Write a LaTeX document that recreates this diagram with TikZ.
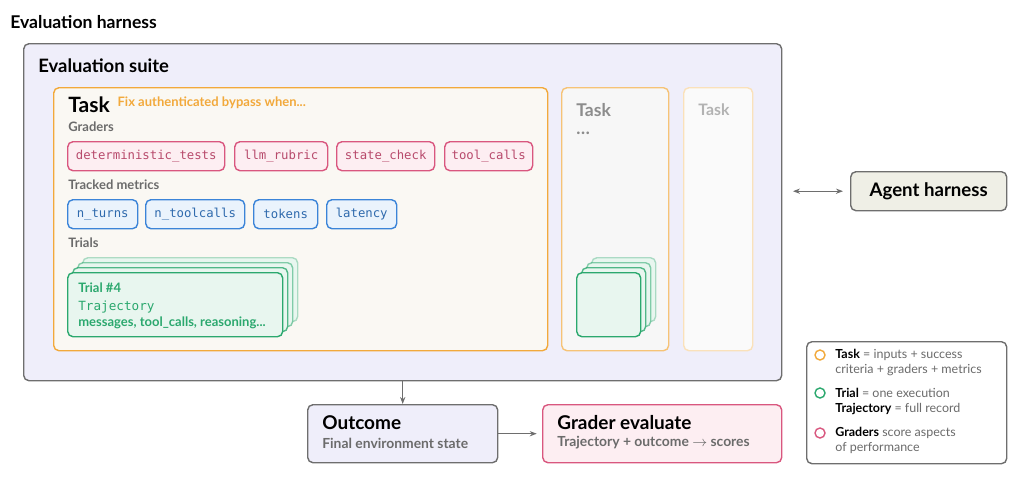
\documentclass[tikz,border=0pt]{standalone}
\usepackage{fontspec}
\setmainfont{Lato}
\setmonofont{DejaVu Sans Mono}
\usetikzlibrary{arrows.meta, positioning}
\definecolor{suitefill}{HTML}{EFEEFA}
\definecolor{taskorange}{HTML}{F2A93B}
\definecolor{taskfill}{HTML}{FAF8F3}
\definecolor{gradpink}{HTML}{D9577F}
\definecolor{gradfill}{HTML}{FDEEF2}
\definecolor{metblue}{HTML}{3B84D8}
\definecolor{metfill}{HTML}{EAF3FC}
\definecolor{trialgreen}{HTML}{2BA86E}
\definecolor{trialfill}{HTML}{E8F6EF}
\definecolor{framegray}{HTML}{6E6E6E}
\definecolor{labelgray}{HTML}{6B6B6B}
\definecolor{agentfill}{HTML}{EFEFE6}
\newcommand{\pxu}{0.02cm}
\begin{document}
\begin{tikzpicture}[x=0.02cm, y=-0.02cm,
  box/.style={draw, rounded corners=3pt, anchor=north west, inner sep=0pt},
  chip/.style={box, line width=0.8pt, minimum height={29*\pxu}, font=\ttfamily\fontsize{7}{8}\selectfont},
  grader/.style={chip, draw=gradpink, fill=gradfill, text=gradpink!85!black},
  metric/.style={chip, draw=metblue, fill=metfill, text=metblue!80!black},
  trial/.style={box, draw=trialgreen, fill=trialfill, line width=0.8pt},
  heading/.style={anchor=west, inner sep=0pt, font=\bfseries\fontsize{10}{12}\selectfont},
  caption/.style={anchor=west, inner sep=0pt, text=labelgray, font=\bfseries\fontsize{7.4}{8}\selectfont},
  legtext/.style={anchor=north west, inner sep=0pt, text=labelgray, align=left, font=\fontsize{7.1}{8.6}\selectfont},
  link/.style={-{Stealth[length=4pt]}, framegray, line width=0.6pt}]
  \useasboundingbox (0,0) rectangle (1024,480);

  % harness and suite
  \node[heading] (harness) at (10,22) {Evaluation harness};
  \node[box, draw=framegray, fill=suitefill, line width=0.8pt,
    minimum width={758*\pxu}, minimum height={337*\pxu}] (suite) at (23,43) {};
  \node[heading, font=\bfseries\fontsize{10.5}{12}\selectfont] (suitetitle) at (38,66) {Evaluation suite};

  % main task
  \node[box, draw=taskorange, fill=taskfill, line width=0.8pt,
    minimum width={494*\pxu}, minimum height={263*\pxu}] (task) at (53,87) {};
  \node[heading, font=\bfseries\fontsize{12}{14}\selectfont] (tasktitle) at (68,105) {Task};
  \node[caption, text=taskorange, right=4pt of tasktitle.east, anchor=west, yshift=1pt] (taskname) {Fix authenticated bypass when...};
  \node[caption] (graders) at (68,127) {Graders};
  \node[grader, minimum width={157*\pxu}] (g1) at (67,141) {deterministic\_tests};
  \node[grader, minimum width={93*\pxu}] (g2) at (234,141) {llm\_rubric};
  \node[grader, minimum width={98*\pxu}] (g3) at (336,141) {state\_check};
  \node[grader, minimum width={88*\pxu}] (g4) at (444,141) {tool\_calls};
  \node[caption] (metrics) at (68,185) {Tracked metrics};
  \node[metric, minimum width={70*\pxu}] (m1) at (67,199) {n\_turns};
  \node[metric, minimum width={99*\pxu}] (m2) at (145,199) {n\_toolcalls};
  \node[metric, minimum width={64*\pxu}] (m3) at (253,199) {tokens};
  \node[metric, minimum width={70*\pxu}] (m4) at (326,199) {latency};
  \node[caption] (trials) at (68,243) {Trials};
  \foreach \k/\o in {3/0.35, 2/0.55, 1/0.8}
    \node[trial, draw opacity=\o, minimum width={215*\pxu}, minimum height={64*\pxu}]
      (back\k) at ({67+5*\k},{272-5*\k}) {};
  \node[trial, minimum width={215*\pxu}, minimum height={64*\pxu}] (trial4) at (67,272) {};
  \node[caption, text=trialgreen] (trialname) at (78,288) {Trial \#4};
  \node[caption, text=trialgreen, font=\ttfamily\fontsize{7.2}{8}\selectfont] (traj) at (78,307) {Trajectory};
  \node[caption, text=trialgreen] (trajitems) at (78,323) {messages, tool\_calls, reasoning...};

  % further tasks
  \node[box, draw=taskorange!70, fill=black!3, line width=0.8pt,
    minimum width={107*\pxu}, minimum height={263*\pxu}] (task2) at (561,87) {};
  \node[heading, text=black!45, font=\bfseries\fontsize{10}{12}\selectfont] (task2title) at (576,110) {Task};
  \node[heading, text=black!45] (task2dots) at (576,133) {\dots};
  \foreach \k/\o in {3/0.35, 2/0.55, 1/0.8}
    \node[trial, draw opacity=\o, minimum width={64*\pxu}, minimum height={64*\pxu}]
      (small\k) at ({576+5*\k},{272-5*\k}) {};
  \node[trial, minimum width={64*\pxu}, minimum height={64*\pxu}] (smallfront) at (576,272) {};
  \node[box, draw=taskorange!35, fill=black!2, line width=0.8pt,
    minimum width={69*\pxu}, minimum height={263*\pxu}] (task3) at (683,87) {};
  \node[heading, text=black!30, font=\bfseries\fontsize{9}{11}\selectfont] (task3title) at (698,110) {Task};

  % agent harness
  \node[box, draw=framegray, fill=agentfill, line width=0.8pt,
    minimum width={156*\pxu}, minimum height={39*\pxu}, font=\bfseries\fontsize{10.6}{12}\selectfont]
    (agent) at (850,171) {Agent harness};
  \draw[{Stealth[length=4pt]}-{Stealth[length=4pt]}, framegray, line width=0.6pt]
    ([xshift=6pt]suite.east |- agent.west) -- ([xshift=-4pt]agent.west);

  % outcome and grading
  \node[box, draw=framegray, fill=suitefill, line width=0.8pt,
    minimum width={190*\pxu}, minimum height={58*\pxu}] (outcome) at (307,404) {};
  \node[heading, font=\bfseries\fontsize{10.8}{12}\selectfont] (outtitle) at (322,423) {Outcome};
  \node[caption, font=\bfseries\fontsize{7.9}{9}\selectfont] (outsub) at (322,443) {Final environment state};
  \node[box, draw=gradpink, fill=gradfill, line width=0.8pt,
    minimum width={239*\pxu}, minimum height={58*\pxu}] (grade) at (542,404) {};
  \node[heading, font=\bfseries\fontsize{10.8}{12}\selectfont] (gradetitle) at (557,423) {Grader evaluate};
  \node[caption, font=\bfseries\fontsize{7.9}{9}\selectfont] (gradesub) at (557,443) {Trajectory + outcome $\rightarrow$ scores};
  \draw[link] (suite.south -| outcome.north) -- (outcome.north);
  \draw[link] (outcome.east) -- ([xshift=-3pt]grade.west);

  % legend
  \node[box, draw=framegray, fill=white, line width=0.8pt,
    minimum width={200*\pxu}, minimum height={122*\pxu}] (legend) at (806,341) {};
  \foreach \c/\y/\nm in {taskorange/355/ltask, trialgreen/393/ltrial, gradpink/433/lgrad}
    \node[draw=\c, circle, line width=0.8pt, minimum size={10*\pxu}, inner sep=0pt] (\nm) at (820,\y) {};
  \node[legtext] (ltasktext) at (835,349) {\textbf{\color{black}Task} = inputs + success\\criteria + graders + metrics};
  \node[legtext] (ltrialtext) at (835,388) {\textbf{\color{black}Trial} = one execution\\\textbf{\color{black}Trajectory} = full record};
  \node[legtext] (lgradtext) at (835,427) {\textbf{\color{black}Graders} score aspects\\of performance};
\end{tikzpicture}
\end{document}
